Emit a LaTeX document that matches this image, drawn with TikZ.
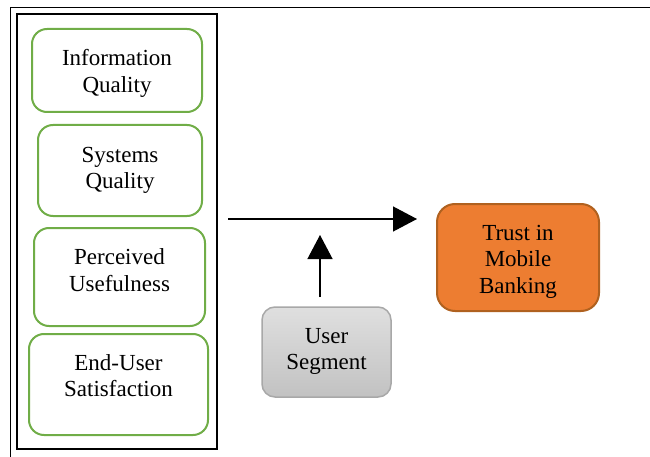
\documentclass[tikz,border=0pt]{standalone}
\usepackage{fontspec}
\setmainfont{Liberation Serif}
\newfontfamily\diagfont{Liberation Serif}
\usetikzlibrary{arrows.meta}
\definecolor{leafgreen}{HTML}{70AD47}
\definecolor{trustorange}{HTML}{ED7D31}
\definecolor{trustedge}{HTML}{B0611F}
\definecolor{segedge}{HTML}{A8A8A8}
\tikzset{
  factor/.style={draw=leafgreen, line width=2pt, rounded corners=15pt, fill=white,
    inner sep=0pt, align=center},
  flowarrow/.style={line width=1.3pt, -{Triangle[length=24pt, width=25pt]}},
  boxtext/.style={font=\diagfont\fontsize{23}{26.5}\selectfont}
}
\begin{document}
\begin{tikzpicture}[x=1pt, y=-1pt, boxtext]
\useasboundingbox (0,0) rectangle (650,457);
% outer frame (top and left edges)
\draw[line width=1pt] (650,8) -- (10.5,8) -- (10.5,457);
% grouping box for the four factors
\node[draw, line width=2.5pt, minimum width=200pt, minimum height=435pt, inner sep=0pt]
  (group) at (117,231.5) {};
% factor boxes
\node[factor, minimum width=170pt, minimum height=83pt,
  label={[boxtext, align=center, yshift=-3pt]center:{Information\\Quality}}] (info) at (117,70.5) {};
\node[factor, minimum width=164pt, minimum height=91pt,
  label={[boxtext, align=center, yshift=0pt]center:{Systems\\Quality}}] (sys) at (120,170.5) {};
\node[factor, minimum width=171pt, minimum height=98pt,
  label={[boxtext, align=center, yshift=7pt]center:{Perceived\\Usefulness}}] (useful) at (119.5,277) {};
\node[factor, minimum width=179pt, minimum height=101pt,
  label={[boxtext, align=center, yshift=9pt]center:{End-User\\Satisfaction}}] (satisf) at (118.5,384.5) {};
% outcome
\node[draw=trustedge, line width=2pt, fill=trustorange, rounded corners=18pt,
  minimum width=162pt, minimum height=107pt, inner sep=0pt,
  label={[boxtext, align=center, yshift=-4pt]center:{Trust in\\Mobile\\Banking}}]
  (trust) at (518,257.5) {};
% moderator
\node[draw=segedge, line width=1.5pt, top color=gray!25, bottom color=gray!48,
  rounded corners=13pt, minimum width=129pt, minimum height=90pt, inner sep=0pt,
  label={[boxtext, align=center, yshift=0.5pt]center:{User\\Segment}}]
  (segment) at (326.5,352) {};
% arrows
\coordinate (hstart) at ([xshift=10pt]group.east |- 0,219);
\coordinate (hend) at (417,219);
\draw[flowarrow] (hstart) -- (hend);
\coordinate (vstart) at (320,297);
\coordinate (vend) at (320,235);
\draw[flowarrow] (vstart) -- (vend);
\end{tikzpicture}
\end{document}
